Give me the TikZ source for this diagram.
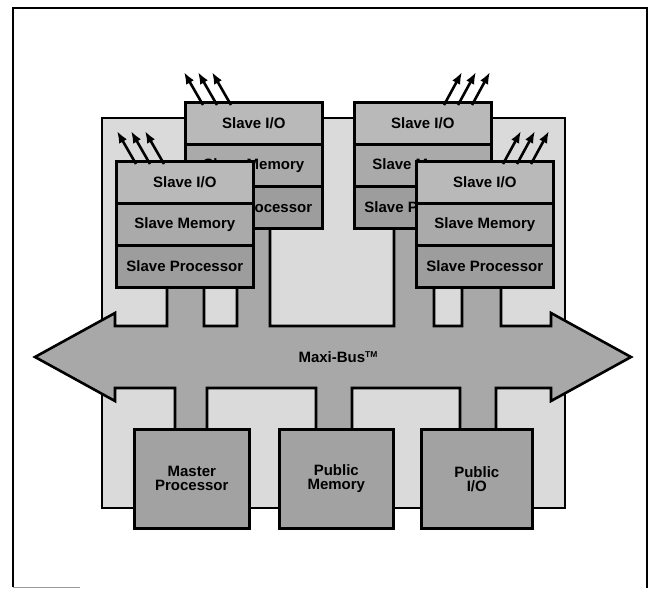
\documentclass[tikz,border=0pt]{standalone}
\usepackage{fontspec}
\setmainfont{Liberation Sans}
\usetikzlibrary{arrows.meta}
\definecolor{boardfill}{HTML}{DADADA}
\definecolor{iofill}{HTML}{B9B9B9}
\definecolor{memfill}{HTML}{AAAAAA}
\definecolor{procfill}{HTML}{9D9D9D}
\definecolor{busfill}{HTML}{A8A8A8}
\definecolor{pubfill}{HTML}{A2A2A2}
\newcommand{\lblfont}{\bfseries\fontsize{15}{14}\selectfont}
\begin{document}
\begin{tikzpicture}[x=1pt,y=-1pt,
  outline/.style={line width=2.6pt, line join=miter},
  slaverow/.style={draw, outline, minimum width=137pt, minimum height=42pt,
    inner sep=0pt, anchor=north west, font=\lblfont},
  iorow/.style={slaverow, fill=iofill},
  memrow/.style={slaverow, fill=memfill},
  procrow/.style={slaverow, fill=procfill},
  pubbox/.style={draw, outline, fill=pubfill, anchor=north west, inner sep=0pt,
    minimum height=99pt, align=center, font=\lblfont},
  outarrow/.style={line width=2.6pt, -{Latex[length=12pt,width=9pt]}},
]
\useasboundingbox (0,0) rectangle (654,589);

% outer frame
\draw[line width=1.8pt] (13,587) -- (13,8) -- (647,8) -- (647,588);
\draw[line width=0.8pt, black!40] (13,587) -- (80,587);

% board
\draw[outline, fill=boardfill] (102,118) rectangle (565,508);

% the bus with its stems
\draw[outline, fill=busfill]
  (35,357) -- (115,313) -- (115,326)
  -- (167,326) -- (167,275) -- (204,275) -- (204,326)
  -- (237,326) -- (237,215) -- (270,215) -- (270,326)
  -- (394,326) -- (394,215) -- (434,215) -- (434,326)
  -- (462,326) -- (462,275) -- (501,275) -- (501,326)
  -- (551,326) -- (551,313) -- (631,357) -- (551,401) -- (551,388)
  -- (496,388) -- (496,440) -- (460,440) -- (460,388)
  -- (352,388) -- (352,440) -- (316,440) -- (316,388)
  -- (207,388) -- (207,440) -- (175,440) -- (175,388)
  -- (115,388) -- (115,401) -- cycle;
\node[font=\lblfont] (bus) at (338,357) {Maxi-Bus\raisebox{5pt}{\fontsize{8.5}{8.5}\selectfont TM}};

% back slave boxes
\node[iorow]   (bl-io)   at (184,101) {Slave I/O};
\node[memrow]  (bl-mem)  at (184,143) {Slave Memory};
\node[procrow] (bl-proc) at (184,185) {Slave Processor};

\node[iorow]   (br-io)   at (353,101) {Slave I/O};
\node[memrow]  (br-mem)  at (353,143) {Slave Memory};
\node[procrow] (br-proc) at (353,185) {Slave Processor};

% front slave boxes
\node[iorow]   (fl-io)   at (115,160) {Slave I/O};
\node[memrow]  (fl-mem)  at (115,202) {Slave Memory};
\node[procrow] (fl-proc) at (115,244) {Slave Processor};

\node[iorow]   (fr-io)   at (415,160) {Slave I/O};
\node[memrow]  (fr-mem)  at (415,202) {Slave Memory};
\node[procrow] (fr-proc) at (415,244) {Slave Processor};

% public boxes
\node[pubbox, minimum width=115pt] (master) at (133,428) {Master\\Processor};
\node[pubbox, minimum width=114pt] (pubmem) at (278,428) {Public\\Memory};
\node[pubbox, minimum width=111pt] (pubio)  at (420,428) {Public\\I/O};

% I/O arrows
\coordinate (fl-t1) at (117,131);
\coordinate (fl-t2) at (131,131);
\coordinate (fl-t3) at (145,131);
\coordinate (bl-t1) at (184,72);
\coordinate (bl-t2) at (198,72);
\coordinate (bl-t3) at (212,72);
\coordinate (br-t1) at (462,72);
\coordinate (br-t2) at (476,72);
\coordinate (br-t3) at (490,72);
\coordinate (fr-t1) at (521,131);
\coordinate (fr-t2) at (535,131);
\coordinate (fr-t3) at (549,131);

\draw[outarrow] ([xshift=21pt,yshift=-4pt]fl-io.north west) -- (fl-t1);
\draw[outarrow] ([xshift=35pt,yshift=-4pt]fl-io.north west) -- (fl-t2);
\draw[outarrow] ([xshift=49pt,yshift=-4pt]fl-io.north west) -- (fl-t3);
\draw[outarrow] ([xshift=19pt,yshift=-4pt]bl-io.north west) -- (bl-t1);
\draw[outarrow] ([xshift=33pt,yshift=-4pt]bl-io.north west) -- (bl-t2);
\draw[outarrow] ([xshift=47pt,yshift=-4pt]bl-io.north west) -- (bl-t3);
\draw[outarrow] ([xshift=91pt,yshift=-4pt]br-io.north west) -- (br-t1);
\draw[outarrow] ([xshift=105pt,yshift=-4pt]br-io.north west) -- (br-t2);
\draw[outarrow] ([xshift=119pt,yshift=-4pt]br-io.north west) -- (br-t3);
\draw[outarrow] ([xshift=88pt,yshift=-4pt]fr-io.north west) -- (fr-t1);
\draw[outarrow] ([xshift=102pt,yshift=-4pt]fr-io.north west) -- (fr-t2);
\draw[outarrow] ([xshift=116pt,yshift=-4pt]fr-io.north west) -- (fr-t3);
\end{tikzpicture}
\end{document}
